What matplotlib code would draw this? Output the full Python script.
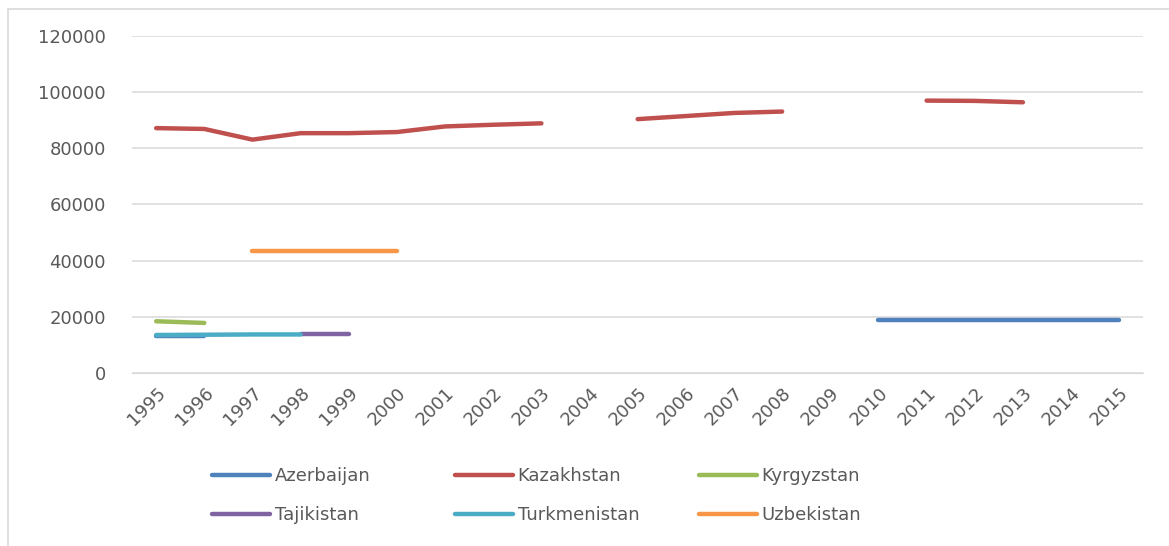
import numpy as np
import matplotlib.pyplot as plt
from matplotlib.patches import Rectangle

nan = np.nan
years = [str(y) for y in range(1995, 2016)]

azerbaijan = [13100, 13100, nan, nan, nan, nan, nan, nan, nan, nan, nan, nan, nan, nan, nan,
              19000, 19000, 19000, 19000, 19000, 19000]
kazakhstan = [87200, 86900, 83100, 85400, 85400, 85800, 87800, 88400, 88900, nan,
              90400, 91500, 92600, 93100, nan, nan, 97000, 96900, 96400, nan, nan]
kyrgyzstan = [18400, 17800] + [nan] * 19
tajikistan = [nan, nan, nan, 13700, 13700] + [nan] * 16
turkmenistan = [13500, 13600, 13700, 13700] + [nan] * 17
uzbekistan = [nan, nan, 43400, 43400, 43400, 43400] + [nan] * 15

series = [
    ('Azerbaijan', azerbaijan, '#4F81BD'),
    ('Kazakhstan', kazakhstan, '#C0504D'),
    ('Kyrgyzstan', kyrgyzstan, '#9BBB59'),
    ('Tajikistan', tajikistan, '#8064A2'),
    ('Turkmenistan', turkmenistan, '#4BACC6'),
    ('Uzbekistan', uzbekistan, '#F79646'),
]

plt.rcParams['font.family'] = 'DejaVu Sans'
fig = plt.figure(figsize=(11.69, 5.46), dpi=100)
fig.patches.append(Rectangle((8 / 1169, -0.1), 1.2, 1 - 9 / 546 + 0.1, transform=fig.transFigure,
                             fill=False, edgecolor='#d9d9d9', linewidth=1.2))
ax = fig.add_axes([0.113, 0.317, 0.865, 0.617])

x = np.arange(len(years))
lines = []
for name, vals, col in series:
    ln, = ax.plot(x, vals, color=col, linewidth=3.2, solid_capstyle='round', label=name)
    lines.append(ln)

ax.set_xlim(-0.5, len(years) - 0.5)
ax.set_ylim(0, 120000)
ax.set_yticks(np.arange(0, 120001, 20000))
ax.yaxis.grid(True, color='#d9d9d9', linewidth=1.1)
ax.set_axisbelow(True)
for s in ax.spines.values():
    s.set_visible(False)
ax.spines['bottom'].set_visible(True)
ax.spines['bottom'].set_color('#d9d9d9')
ax.set_xticks(x)
ax.set_xticklabels(years, rotation=45, ha='right', rotation_mode='anchor')
ax.tick_params(axis='both', length=0, labelsize=13, labelcolor='#595959')
ax.tick_params(axis='y', pad=19)
ax.tick_params(axis='x', pad=8)

# legend laid out row by row, one legend per column
col_x = [205, 448, 692]
for i, cx in enumerate(col_x):
    hs = [lines[i], lines[i + 3]]
    leg = fig.legend(handles=hs, loc='upper left', bbox_to_anchor=(cx / 1169, 1 - 460 / 546),
                     frameon=False, fontsize=13, labelcolor='#595959', handlelength=3.2,
                     handletextpad=0.25, labelspacing=1.15, borderaxespad=0)

fig.savefig('out.png', dpi=100)
